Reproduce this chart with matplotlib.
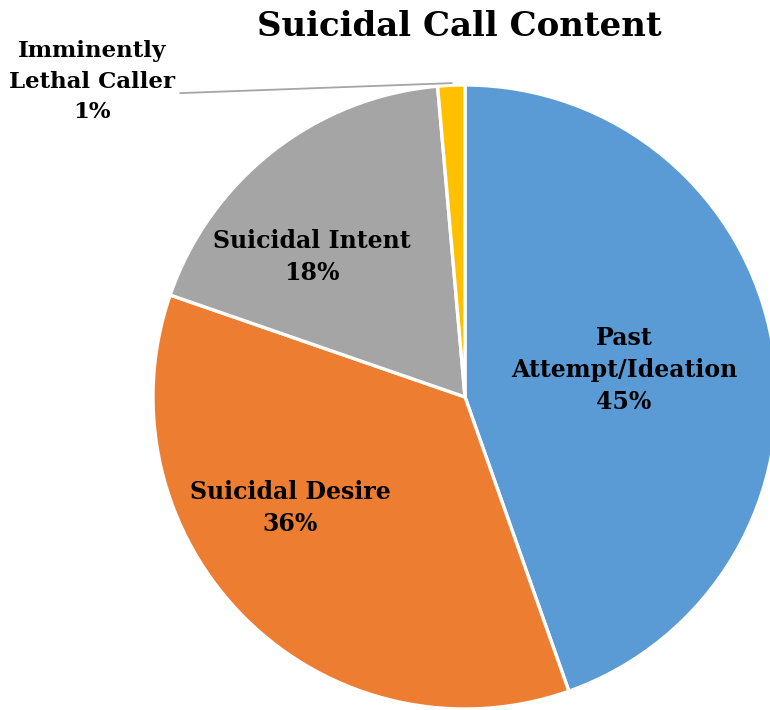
import matplotlib
matplotlib.use("Agg")
import matplotlib.pyplot as plt
import numpy as np

# Share of suicidal call content by category (percent)
categories = ["Past\nAttempt/Ideation", "Suicidal Desire", "Suicidal Intent", "Imminently\nLethal Caller"]
values = [44.6, 35.7, 18.3, 1.4]
colors = ["#5B9BD5", "#ED7D31", "#A5A5A5", "#FFC000"]

FONT = "DejaVu Serif"

fig = plt.figure(figsize=(7.7, 7.1), dpi=100)
ax = fig.add_axes([0.1987, 0.0014, 0.8104, 0.8789])

wedges, _ = ax.pie(values, colors=colors, startangle=90, counterclock=False,
                   radius=1.0, center=(0, 0), frame=False,
                   wedgeprops=dict(edgecolor="white", linewidth=2.4))
for w in wedges:
    w.set_clip_on(False)

ax.set_aspect("equal")
ax.set_xlim(-1, 1)
ax.set_ylim(-1, 1)
ax.axis("off")

def label_text(cat, v):
    return f"{cat}\n{int(round(v))}%"

style = dict(fontfamily=FONT, fontweight="bold", fontsize=17, ha="center",
             va="center", color="black", linespacing=1.42)

# in-slice labels
ax.text(0.51, 0.087, label_text(categories[0], values[0]), **style)
ax.text(-0.561, -0.356, label_text(categories[1], values[1]), **style)
ax.text(-0.49, 0.449, label_text(categories[2], values[2]), **style)

# outside label with leader line for the small slice
ax.text(-1.196, 1.01, label_text(categories[3], values[3]), clip_on=False,
        **{**style, "fontsize": 16.5, "linespacing": 1.5})
ax.annotate("", xy=(-0.042, 1.006), xytext=(-0.913, 0.974),
            arrowprops=dict(arrowstyle="-", color="#A5A5A5", lw=1.3,
                            shrinkA=0, shrinkB=0),
            annotation_clip=False)

fig.text(0.596, 0.963, "Suicidal Call Content", ha="center", va="center",
         fontfamily=FONT, fontweight="bold", fontsize=24.5, color="black")

fig.savefig("out.png", dpi=100, facecolor="white")
